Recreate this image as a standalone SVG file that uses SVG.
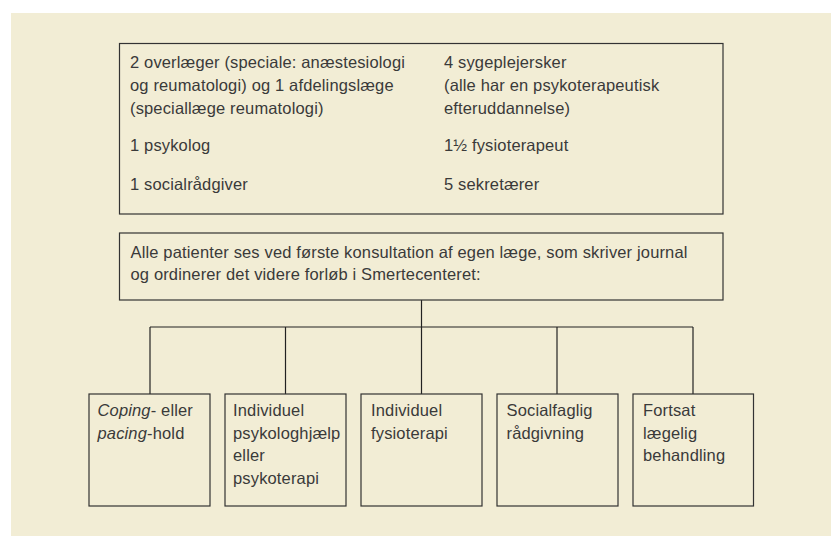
<svg xmlns="http://www.w3.org/2000/svg" width="831" height="536" viewBox="0 0 831 536">
<style>
.box{fill:none;stroke:#333;stroke-width:1.2}
.ln{stroke:#222;stroke-width:1.2;fill:none}
text{font-family:"Liberation Sans",Arial,sans-serif;font-size:16.5px;letter-spacing:0.15px;fill:#3a3a3a}
</style>
<rect x="11" y="13" width="820" height="523" fill="#F2EDD5"/>
<g id="connectors">
<line class="ln" x1="421.5" y1="300" x2="421.5" y2="327"/>
<line class="ln" x1="150" y1="327" x2="693" y2="327"/>
<line class="ln" x1="150" y1="327" x2="150" y2="394"/>
<line class="ln" x1="285.5" y1="327" x2="285.5" y2="394"/>
<line class="ln" x1="421.5" y1="327" x2="421.5" y2="394"/>
<line class="ln" x1="557" y1="327" x2="557" y2="394"/>
<line class="ln" x1="693" y1="327" x2="693" y2="394"/>
</g>
<g id="staff">
<rect class="box" x="119.5" y="43.5" width="603.5" height="170.5"/>
<text x="130" y="68">2 overlæger (speciale: anæstesiologi</text>
<text x="130" y="91">og reumatologi) og 1 afdelingslæge</text>
<text x="130" y="114">(speciallæge reumatologi)</text>
<text x="130" y="151">1 psykolog</text>
<text x="130" y="190">1 socialrådgiver</text>
<text x="444" y="68">4 sygeplejersker</text>
<text x="444" y="91">(alle har en psykoterapeutisk</text>
<text x="444" y="114">efteruddannelse)</text>
<text x="444" y="151">1½ fysioterapeut</text>
<text x="444" y="190">5 sekretærer</text>
</g>
<g id="consult">
<rect class="box" x="119.5" y="233" width="603.5" height="67"/>
<text x="130.5" y="257.5">Alle patienter ses ved første konsultation af egen læge, som skriver journal</text>
<text x="130.5" y="279.5">og ordinerer det videre forløb i Smertecenteret:</text>
</g>
<g id="coping">
<rect class="box" x="89" y="394" width="121" height="112"/>
<text x="97.5" y="416"><tspan font-style="italic">Coping</tspan>- eller</text>
<text x="97.5" y="438.5"><tspan font-style="italic">pacing</tspan>-hold</text>
</g>
<g id="psyk">
<rect class="box" x="225" y="394" width="121" height="112"/>
<text x="233" y="416">Individuel</text>
<text x="233" y="438.5">psykologhjælp</text>
<text x="233" y="461">eller</text>
<text x="233" y="483.5">psykoterapi</text>
</g>
<g id="fysio">
<rect class="box" x="361" y="394" width="121" height="112"/>
<text x="371" y="416">Individuel</text>
<text x="371" y="438.5">fysioterapi</text>
</g>
<g id="social">
<rect class="box" x="497" y="394" width="121" height="112"/>
<text x="506.5" y="416">Socialfaglig</text>
<text x="506.5" y="438.5">rådgivning</text>
</g>
<g id="laege">
<rect class="box" x="633" y="394" width="120.5" height="112"/>
<text x="643" y="416">Fortsat</text>
<text x="643" y="438.5">lægelig</text>
<text x="643" y="461">behandling</text>
</g>
</svg>
